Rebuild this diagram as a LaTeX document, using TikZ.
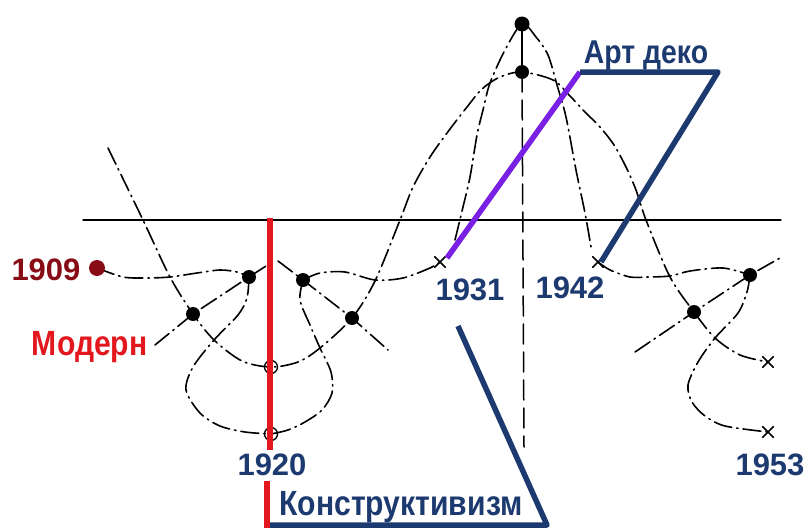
\documentclass[tikz,border=0pt]{standalone}
\usepackage{fontspec}
\newfontfamily\yearfont{Liberation Sans}
\newfontfamily\labelfont{Liberation Sans}[FakeStretch=0.86]
\usepackage{tikz}
\usetikzlibrary{shapes.misc}

\definecolor{navy}{RGB}{28,58,112}
\definecolor{modred}{RGB}{226,24,30}
\definecolor{oldred}{RGB}{135,12,22}
\definecolor{decopurple}{RGB}{122,32,228}

\begin{document}
\begin{tikzpicture}[x=1pt, y=-1pt, line cap=round, line join=round,
  curve/.style={line width=1.6pt, dash pattern=on 18pt off 5pt on 1.5pt off 5pt},
  bar/.style={line width=5.5pt, line cap=butt},
  xmark/.style={cross out, draw=black, line width=1.6pt, inner sep=0pt, minimum size=9pt},
  year/.style={anchor=base, text=navy, font=\yearfont\bfseries\fontsize{31}{31}\selectfont},
  stylename/.style={font=\labelfont\bfseries\fontsize{35}{35}\selectfont}]
  \useasboundingbox (0,0) rectangle (806,530);

  % punti principali
  \coordinate (w0) at (108,148);
  \coordinate (d1909) at (97,268);
  \coordinate (la) at (249,277);
  \coordinate (lb) at (303,280);
  \coordinate (lc) at (193,314);
  \coordinate (ld) at (352,318);
  \coordinate (r1) at (271,367);
  \coordinate (r2) at (271,434);
  \coordinate (peak) at (522,24);
  \coordinate (crest) at (522,72);
  \coordinate (cb) at (524,447);
  \coordinate (m1931) at (440,262);
  \coordinate (m1942) at (598,262);
  \coordinate (ra) at (750,275);
  \coordinate (rc) at (694,312);
  \coordinate (e1) at (768,362);
  \coordinate (e2) at (768,432);
  \coordinate (n0) at (455,240);
  \coordinate (n1) at (591,247);
  \coordinate (mod) at (155,345);
  \coordinate (k1) at (266,266);
  \coordinate (k2) at (278,261);
  \coordinate (k3) at (388,350);
  \coordinate (k4) at (635,352);
  \coordinate (k5) at (780,258);
  \coordinate (h0) at (83,220);
  \coordinate (h1) at (781,220);

  % linea orizzontale
  \draw[line width=1.4pt] (h0) -- (h1);

  % onda grande
  \draw[curve] plot[smooth, tension=0.5] coordinates {(w0) (143,220) (170,277) (lc) (214,340)
    (242,361) (r1) (298,362) (320,348) (ld) (375,281) (400,220) (413,187) (430,157) (447,133)
    (467,107) (482,89) (500,77) (crest) (553,80) (570,96) (585,112) (600,127) (614,145)
    (626,167) (636,190) (646,220) (670,277) (rc) (715,338) (740,355) (e1)};

  % onda stretta
  \draw[curve] plot[smooth, tension=0.5] coordinates {(n0) (463,207) (470,177) (477,135)
    (483,110) (490,83) (505,50) (peak) (536,37) (548,55) (557,85) (566,117) (576,170)
    (585,213) (n1)};

  % linee quasi orizzontali
  \draw[curve] plot[smooth, tension=0.5] coordinates {(d1909) (123,277) (145,278) (170,277)
    (197,273) (220,270) (237,272) (la)};
  \draw[curve] plot[smooth, tension=0.5] coordinates {(lb) (320,273) (345,272) (375,280)
    (403,278) (430,268) (m1931)};
  \draw[curve] plot[smooth, tension=0.5] coordinates {(m1942) (610,270) (630,277) (648,277)
    (670,276) (690,271) (723,268) (ra)};

  % anse inferiori
  \draw[curve] plot[smooth, tension=0.5] coordinates {(la) (247,298) (238,315) (214,340)
    (193,367) (186,390) (200,413) (220,426) (245,432) (r2)};
  \draw[curve] plot[smooth, tension=0.5] coordinates {(lb) (300,300) (310,325) (320,348)
    (331,372) (332,393) (322,410) (305,422) (288,430) (r2)};
  \draw[curve] plot[smooth, tension=0.5] coordinates {(ra) (747,292) (738,313) (715,338)
    (698,362) (688,385) (692,402) (705,416) (725,426) (e2)};

  % rette oblique
  \draw[curve] (mod) -- (lc) -- (la) -- (k1);
  \draw[curve] (k2) -- (lb) -- (ld) -- (k3);
  \draw[curve] (k4) -- (rc) -- (ra) -- (k5);

  % asse verticale
  \draw[line width=1.5pt] (peak) -- (crest);
  \draw[line width=1.5pt, dash pattern=on 20pt off 8pt] (crest) -- (cb);

  % punti
  \foreach \p in {la,lb,lc,ld,ra,rc,crest}
    \fill (\p) circle (7pt);
  \fill (peak) circle (7.5pt);
  \fill[oldred] (d1909) circle (8pt);
  \foreach \p in {r1,r2}
    \draw[line width=1.3pt] (\p) circle (6.5pt);
  \node[xmark] (x1931) at (m1931) {};
  \node[xmark] (x1942) at (m1942) {};
  \node[xmark] (xe1) at (e1) {};
  \node[xmark] (xe2) at (e2) {};

  % Modern e Costruttivismo
  \coordinate (rt) at (270,218);
  \coordinate (rb) at (270,450);
  \coordinate (kr0) at (267,481);
  \coordinate (kr1) at (267,528);
  \coordinate (kb0) at (267,525);
  \coordinate (kb1) at (547,525);
  \coordinate (kb2) at (458,326);
  \draw[bar, navy] (kb0) -- (kb1) -- (kb2);
  \draw[bar, modred] (rt) -- (rb);
  \draw[bar, modred] (kr0) -- (kr1);

  % Art deco
  \coordinate (p0) at (447,258);
  \coordinate (p1) at (580,72);
  \coordinate (a1) at (718,72);
  \coordinate (a2) at (601,262);
  \draw[bar, decopurple] (p0) -- (p1);
  \draw[bar, navy] (p1) -- (a1) -- (a2);

  % etichette
  \node[anchor=base east, text=oldred, font=\yearfont\bfseries\fontsize{31}{31}\selectfont]
    (t1909) at (84,280) {1909};
  \node[stylename, anchor=base east, text=modred] (tmod) at (151,355) {Модерн};
  \node[year] (t1920) at (272,475) {1920};
  \node[year] (t1931) at (470,300) {1931};
  \node[year] (t1942) at (570,298) {1942};
  \node[year] (t1953) at (770,475) {1953};
  \node[stylename, anchor=base west, text=navy] (tkon) at (276,515) {Конструктивизм};
  \node[stylename, anchor=base, text=navy, font=\labelfont\bfseries\fontsize{33}{33}\selectfont]
    (tdeco) at (646,63) {Арт деко};
\end{tikzpicture}
\end{document}
